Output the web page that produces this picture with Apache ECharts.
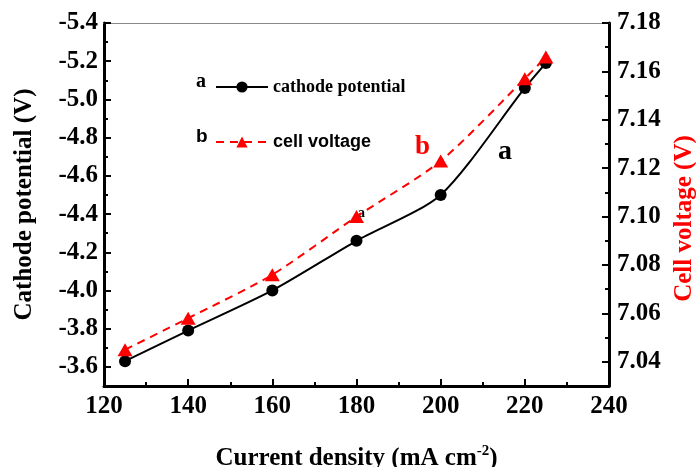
<!DOCTYPE html>
<html>
<head>
<meta charset="utf-8">
<script src="https://cdn.jsdelivr.net/npm/echarts@6/dist/echarts.min.js"></script>
<style>
  html, body { margin: 0; padding: 0; background: #fff; }
  #chart { width: 696px; height: 467px; }
</style>
</head>
<body>
<div id="chart"></div>
<script>
const currentDensity = [125, 140, 160, 180, 200, 220, 225]
const cathodePotential = [-3.63, -3.79, -4.00, -4.26, -4.50, -5.06, -5.19]
const cellVoltage = [7.045, 7.058, 7.076, 7.100, 7.123, 7.157, 7.166]
const rightTicks = [7.04, 7.06, 7.08, 7.10, 7.12, 7.14, 7.16, 7.18]
const rightMinorTicks = [7.05, 7.07, 7.09, 7.11, 7.13, 7.15, 7.17]

const serif = 'Liberation Serif, Times New Roman, serif'
const sans = 'Liberation Sans, Arial, sans-serif'

const tickFont = { fontFamily: serif, fontWeight: 'bold', fontSize: 25, color: '#000' }

const chart = echarts.init(document.getElementById('chart'))

chart.setOption({
  animation: false,
  grid: { left: 104, right: 87, top: 23, bottom: 81, outerBoundsMode: 'none', containLabel: false },
  legend: [
    {
      data: ['cathode potential'],
      left: 210, top: 73,
      itemWidth: 52, itemHeight: 14,
      textStyle: { fontFamily: serif, fontWeight: 'bold', fontSize: 18, color: '#000' }
    },
    {
      data: ['cell voltage'],
      left: 210, top: 128,
      itemWidth: 52, itemHeight: 14,
      textStyle: { fontFamily: sans, fontWeight: 'bold', fontSize: 18, color: '#000' }
    }
  ],
  xAxis: [
    {
      type: 'value', min: 120, max: 240, interval: 20,
      axisLine: { lineStyle: { color: '#000', width: 3 } },
      axisTick: { inside: true, length: 7, lineStyle: { color: '#000', width: 2 } },
      minorTick: { show: true, splitNumber: 2, length: 4, lineStyle: { color: '#000', width: 2 } },
      splitLine: { show: false },
      axisLabel: { ...tickFont, margin: 8 },
      name: 'Current density (mA cm{sup|-2})',
      nameLocation: 'middle', nameGap: 58, nameMoveOverlap: false,
      nameTextStyle: {
        fontFamily: serif, fontWeight: 'bold', fontSize: 25, color: '#000',
        rich: { sup: { fontFamily: serif, fontWeight: 'bold', fontSize: 15, verticalAlign: 'top', padding: [0, 0, 14, 0] } }
      }
    },
    {
      type: 'value', position: 'top', min: 120, max: 240,
      axisLine: { show: true, lineStyle: { color: '#888', width: 1 } },
      axisTick: { show: false }, axisLabel: { show: false }, splitLine: { show: false }
    }
  ],
  yAxis: [
    {
      type: 'value', position: 'left', inverse: true,
      min: -5.4, max: -3.5, interval: 0.2,
      axisLine: { show: true, lineStyle: { color: '#000', width: 3 } },
      axisTick: { inside: true, length: 7, lineStyle: { color: '#000', width: 2 } },
      minorTick: { show: true, splitNumber: 2, length: 4, lineStyle: { color: '#000', width: 2 } },
      splitLine: { show: false },
      axisLabel: {
        ...tickFont, margin: 6,
        formatter: (v) => Math.abs(v + 3.5) < 1e-6 ? '' : v.toFixed(1)
      },
      name: 'Cathode potential (V)',
      nameLocation: 'middle', nameGap: 67,
      nameTextStyle: { fontFamily: serif, fontWeight: 'bold', fontSize: 25, color: '#000' }
    },
    {
      type: 'value', position: 'right', min: 7.03, max: 7.18,
      axisLine: { show: true, lineStyle: { color: '#000', width: 3 } },
      axisTick: { inside: true, length: 7, customValues: rightTicks, lineStyle: { color: '#000', width: 2 } },
      splitLine: { show: false },
      axisLabel: { ...tickFont, margin: 8, customValues: rightTicks, formatter: (v) => v.toFixed(2) },
      name: 'Cell voltage (V)',
      nameLocation: 'middle', nameGap: 61, nameRotate: 90,
      nameTextStyle: { fontFamily: serif, fontWeight: 'bold', fontSize: 25, color: '#ff0000', padding: [0, 28, 0, 0] }
    },
    {
      type: 'value', position: 'right', min: 7.03, max: 7.18,
      axisLine: { show: false },
      axisTick: { inside: true, length: 4, customValues: rightMinorTicks, lineStyle: { color: '#000', width: 2 } },
      axisLabel: { show: false },
      splitLine: { show: false }
    }
  ],
  series: [
    {
      name: 'cathode potential', type: 'line', xAxisIndex: 0, yAxisIndex: 0,
      data: currentDensity.map((x, i) => [x, cathodePotential[i]]),
      smooth: 0.25,
      symbol: 'circle', symbolSize: 12,
      itemStyle: { color: '#000' },
      lineStyle: { color: '#000', width: 2 }
    },
    {
      name: 'cell voltage', type: 'line', xAxisIndex: 0, yAxisIndex: 1,
      data: currentDensity.map((x, i) => [x, cellVoltage[i]]),
      smooth: 0.25,
      symbol: 'triangle', symbolSize: [15, 13],
      itemStyle: { color: '#ff0000' },
      lineStyle: { color: '#ff0000', width: 2, type: [8, 6] }
    }
  ],
  graphic: [
    { type: 'text', left: 196, top: 72, style: { text: 'a', font: 'bold 20px ' + serif, fill: '#000' } },
    { type: 'text', left: 196, top: 127, style: { text: 'b', font: 'bold 19px ' + sans, fill: '#000' } },
    { type: 'text', left: 415, top: 134, style: { text: 'b', font: 'bold 27px ' + serif, fill: '#ff0000' } },
    { type: 'text', left: 498, top: 138, style: { text: 'a', font: 'bold 28px ' + serif, fill: '#000' } },
    { type: 'text', left: 358, top: 206, style: { text: 'a', font: 'bold 14px ' + serif, fill: '#000' } }
  ]
})
</script>
</body>
</html>
